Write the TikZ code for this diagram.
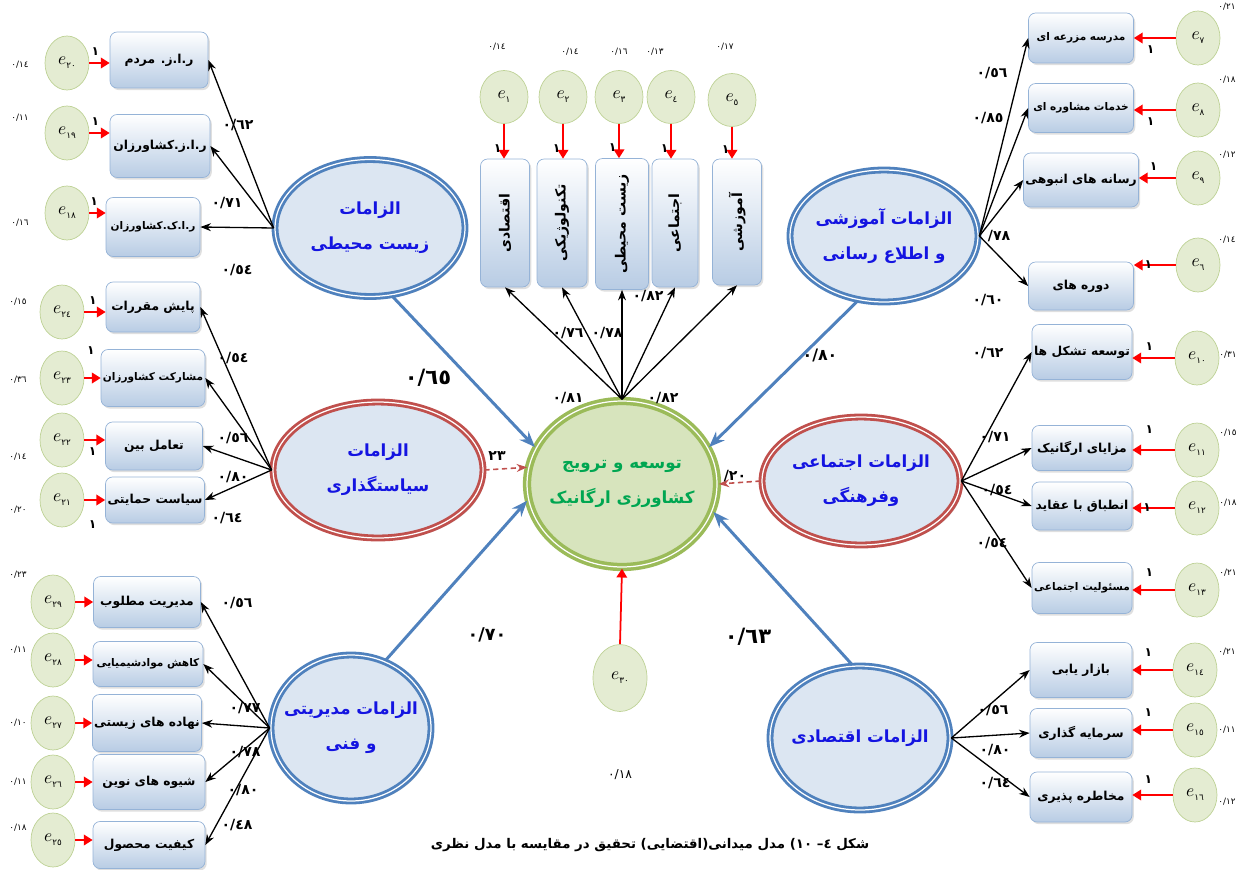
\documentclass[tikz,border=0pt]{standalone}
\usepackage{fontspec}
\usepackage{graphicx}
\usetikzlibrary{shapes.geometric,arrows.meta,shadows,calc}
\TeXXeTstate=1
\newfontfamily\arabicfont[Script=Arabic]{DejaVu Sans}
\newcommand{\rl}[1]{\beginR#1\endR}
\newcommand{\cl}[1]{\makebox[0pt]{\beginR#1\endR}}
\newcommand{\evar}[1]{$e$\raisebox{-0.5ex}{\arabicfont\tiny #1}}
\newcommand{\smallfa}{\arabicfont\bfseries\fontsize{6}{7}\selectfont}
\definecolor{ellblue}{RGB}{79,129,189}
\definecolor{ellred}{RGB}{192,80,77}
\definecolor{ellgreen}{RGB}{155,187,89}
\definecolor{ellfill}{RGB}{220,230,242}
\definecolor{greenfill}{RGB}{215,228,189}
\definecolor{txtblue}{RGB}{20,20,225}
\definecolor{txtgreen}{RGB}{0,166,81}
\definecolor{boxline}{RGB}{149,179,215}
\definecolor{boxfill}{RGB}{184,204,228}
\definecolor{errfill}{RGB}{228,236,210}
\definecolor{errline}{RGB}{190,210,150}

\begin{document}
\begin{tikzpicture}[x=0.02cm, y=-0.02cm,
    latent/.style={ellipse, fill=ellfill, line width=1.6pt, double=white, double distance=0.7pt, align=center, text=txtblue, inner sep=0pt,
      font=\fontsize{9.5}{20}\selectfont\arabicfont\bfseries, drop shadow={shadow xshift=1.5pt, shadow yshift=-1.5pt, fill=black!35}},
    bluelat/.style={latent, draw=ellblue},
    redlat/.style={latent, draw=ellred},
    greenlat/.style={latent, draw=ellgreen, fill=greenfill, text=txtgreen},
    obs/.style={rectangle, rounded corners=4pt, draw=boxline, top color=white, bottom color=boxfill, minimum width=2cm, minimum height=1cm,
      inner sep=1pt, font=\arabicfont\bfseries\scriptsize, drop shadow={shadow xshift=1pt, shadow yshift=-1.2pt, fill=black!25}},
    err/.style={ellipse, draw=errline, fill=errfill, minimum width=0.88cm, minimum height=1.08cm, inner sep=0pt},
    load/.style={-{Stealth[length=6pt, width=4.5pt]}, line width=0.75pt},
    errarr/.style={-{Triangle[length=5pt, width=6pt]}, red, line width=1pt},
    reg/.style={-{Stealth[length=9pt, width=7pt]}, ellblue, line width=1.7pt},
    covar/.style={-{Stealth[length=6pt]}, ellred, dash pattern=on 3pt off 2pt, line width=0.9pt},
    coef/.style={font=\arabicfont\bfseries\footnotesize},
    bigcoef/.style={font=\arabicfont\bfseries\large},
    var/.style={font=\arabicfont\tiny},
    one/.style={font=\arabicfont\bfseries\scriptsize, text=black, inner sep=1pt}]

  \useasboundingbox (0,0) rectangle (1240,869);

  % latent variables
  \node[bluelat, minimum width=3.8cm, minimum height=2.74cm] (zist) at (370,228) {\cl{الزامات}\\\cl{زیست محیطی}};
  \node[redlat, minimum width=4.2cm, minimum height=2.72cm] (sias) at (378,470) {\cl{الزامات}\\\cl{سیاستگذاری}};
  \node[bluelat, minimum width=3.2cm, minimum height=2.92cm] (modir) at (351,728) {\cl{الزامات مدیریتی}\\\cl{و فنی}};
  \node[bluelat, minimum width=3.76cm, minimum height=2.64cm] (amoz) at (884,236) {\cl{الزامات آموزشی}\\\cl{و اطلاع رسانی}};
  \node[redlat, minimum width=3.96cm, minimum height=2.56cm] (ejtem) at (861,481) {\cl{الزامات اجتماعی}\\\cl{وفرهنگی}};
  \node[bluelat, minimum width=3.6cm, minimum height=2.88cm] (eghte) at (860,738) {\cl{الزامات اقتصادی}};
  \node[greenlat, minimum width=3.8cm, minimum height=3.32cm, line width=2pt] (dev) at (622,484) {\cl{توسعه و ترویج}\\\cl{کشاورزی ارگانیک}};

  % indicators
  \node[obs, minimum width=1.96cm, minimum height=1.12cm] (zm1) at (159,60) {\rl{ر.ا.ز. مردم}};
  \node[obs, minimum width=2.0cm, minimum height=1.26cm] (zm2) at (160,146) {\rl{ر.ا.ز.کشاورزان}};
  \node[obs, minimum width=1.88cm, minimum height=1.18cm, font=\smallfa] (zm3) at (153,227) {\rl{ر.ا.ک.کشاورزان}};

  \node[obs, minimum width=1.88cm, minimum height=1.0cm] (sg1) at (153,307) {\rl{پایش مقررات}};
  \node[obs, minimum width=1.88cm, minimum height=1.14cm, font=\smallfa] (sg2) at (153,378) {\rl{مشارکت کشاورزان}};
  \node[obs, minimum width=1.94cm, minimum height=0.96cm] (sg3) at (154,446) {\rl{تعامل بین}};
  \node[obs, minimum width=1.98cm, minimum height=0.92cm] (sg4) at (155,500) {\rl{سیاست حمایتی}};

  \node[obs, minimum width=2.14cm, minimum height=1.02cm] (md1) at (147,602) {\rl{مدیریت مطلوب}};
  \node[obs, minimum width=2.2cm, minimum height=0.9cm, font=\smallfa] (md2) at (148,664) {\rl{کاهش موادشیمیایی}};
  \node[obs, minimum width=2.14cm, minimum height=1.14cm] (md3) at (147,723) {\rl{نهاده های زیستی}};
  \node[obs, minimum width=2.24cm, minimum height=1.1cm] (md4) at (149,782) {\rl{شیوه های نوین}};
  \node[obs, minimum width=2.24cm, minimum height=0.94cm] (md5) at (149,845) {\rl{کیفیت محصول}};

  \node[obs, minimum width=2.1cm, minimum height=1.0cm, font=\smallfa] (am1) at (1081,38) {\rl{مدرسه مزرعه ای}};
  \node[obs, minimum width=2.1cm, minimum height=0.98cm, font=\smallfa] (am2) at (1081,108) {\rl{خدمات مشاوره ای}};
  \node[obs, minimum width=2.1cm, minimum height=1.08cm] (am3) at (1081,180) {\rl{رسانه های انبوهی}};
  \node[obs, minimum width=2.1cm, minimum height=0.96cm] (am4) at (1081,286) {\rl{دوره های}};

  \node[obs, minimum width=2.0cm, minimum height=1.1cm] (ej1) at (1082,352) {\rl{توسعه تشکل ها}};
  \node[obs, minimum width=2.0cm, minimum height=0.9cm] (ej2) at (1082,448) {\rl{مزایای ارگانیک}};
  \node[obs, minimum width=2.0cm, minimum height=0.96cm] (ej3) at (1082,506) {\rl{انطباق با عقاید}};
  \node[obs, minimum width=2.0cm, minimum height=1.02cm, font=\smallfa] (ej4) at (1082,588) {\rl{مسئولیت اجتماعی}};

  \node[obs, minimum width=2.04cm, minimum height=1.1cm] (eg1) at (1081,670) {\rl{بازار یابی}};
  \node[obs, minimum width=2.04cm, minimum height=0.98cm] (eg2) at (1081,733) {\rl{سرمایه گذاری}};
  \node[obs, minimum width=2.04cm, minimum height=1.0cm] (eg3) at (1081,797) {\rl{مخاطره پذیری}};

  \node[obs, minimum width=0.98cm, minimum height=2.56cm, font=\arabicfont\bfseries\footnotesize] (sh1) at (505,223) {\rotatebox{90}{\rl{اقتصادی}}};
  \node[obs, minimum width=1.0cm, minimum height=2.56cm, font=\arabicfont\bfseries\footnotesize] (sh2) at (562,223) {\rotatebox{90}{\rl{تکنولوژیکی}}};
  \node[obs, minimum width=1.06cm, minimum height=2.62cm, font=\arabicfont\bfseries\footnotesize] (sh3) at (622,224) {\rotatebox{90}{\rl{زیست محیطی}}};
  \node[obs, minimum width=0.92cm, minimum height=2.56cm, font=\arabicfont\bfseries\footnotesize] (sh4) at (675,223) {\rotatebox{90}{\rl{اجتماعی}}};
  \node[obs, minimum width=0.98cm, minimum height=2.52cm, font=\arabicfont\bfseries\footnotesize] (sh5) at (737,222) {\rotatebox{90}{\rl{آموزشی}}};

  % error terms
  \node[err, minimum width=0.96cm, minimum height=1.06cm] (e1) at (504,97) {\evar{١}};
  \node[err, minimum width=0.96cm, minimum height=1.06cm] (e2) at (563,97) {\evar{٢}};
  \node[err, minimum width=0.96cm, minimum height=1.06cm] (e3) at (619,97) {\evar{٣}};
  \node[err, minimum width=0.96cm, minimum height=1.06cm] (e4) at (671,97) {\evar{٤}};
  \node[err, minimum width=0.96cm, minimum height=1.06cm] (e5) at (732,100) {\evar{٥}};

  \node[err] (e20) at (67,63) {\evar{٢٠}};
  \node[err] (e19) at (67,133) {\evar{١٩}};
  \node[err] (e18) at (67,213) {\evar{١٨}};
  \node[err] (e24) at (62,312) {\evar{٢٤}};
  \node[err] (e23) at (62,378) {\evar{٢٣}};
  \node[err] (e22) at (62,440) {\evar{٢٢}};
  \node[err] (e21) at (62,500) {\evar{٢١}};
  \node[err] (e29) at (53,602) {\evar{٢٩}};
  \node[err] (e28) at (53,660) {\evar{٢٨}};
  \node[err] (e27) at (53,723) {\evar{٢٧}};
  \node[err] (e26) at (53,782) {\evar{٢٦}};
  \node[err] (e25) at (53,840) {\evar{٢٥}};

  \node[err] (e7) at (1198,38) {\evar{٧}};
  \node[err] (e8) at (1198,110) {\evar{٨}};
  \node[err] (e9) at (1198,178) {\evar{٩}};
  \node[err] (e6) at (1198,265) {\evar{٦}};
  \node[err] (e10) at (1197,358) {\evar{١٠}};
  \node[err] (e11) at (1197,450) {\evar{١١}};
  \node[err] (e12) at (1197,508) {\evar{١٢}};
  \node[err] (e13) at (1197,590) {\evar{١٣}};
  \node[err] (e14) at (1195,670) {\evar{١٤}};
  \node[err] (e15) at (1195,730) {\evar{١٥}};
  \node[err] (e16) at (1195,795) {\evar{١٦}};

  \node[err, minimum width=1.08cm, minimum height=1.34cm] (e30) at (620,678) {\evar{٣٠}};

  % structural paths
  \draw[reg] (zist.-72) -- (dev.157);
  \draw[reg] (amoz.-112) -- (dev.23);
  \draw[reg] (modir.63) -- (dev.190);
  \draw[reg] (eghte.96) -- (dev.-17);
  \draw[covar] (sias.east) -- (dev.170);
  \draw[covar] (ejtem.west) -- (dev.east);
  \draw[errarr] (e30.north) -- (dev.south);

  \node[bigcoef] (p1) at (428,378) {٠/٦٥};
  \node[coef, font=\arabicfont\bfseries\small] (p2) at (820,355) {٠/٨٠};
  \node[coef, font=\arabicfont\bfseries\normalsize] (p3) at (487,635) {٠/٧٠};
  \node[bigcoef] (p4) at (748,637) {٠/٦٣};
  \node[coef] (p5) at (497,456) {٢٣};
  \node[coef] (p6) at (735,476) {\mbox{/}٢٠};

  % loadings
  \draw[load] (dev.north) -- (sh1.south);
  \draw[load] (dev.north) -- (sh2.south);
  \draw[load] (dev.north) -- (sh3.south);
  \draw[load] (dev.north) -- (sh4.south);
  \draw[load] (dev.north) -- (sh5.south);
  \node[coef] at (568,333) {٠/٧٦};
  \node[coef] at (607,333) {٠/٧٨};
  \node[coef] at (648,296) {٠/٨٢};
  \node[coef] at (568,398) {٠/٨١};
  \node[coef] at (663,398) {٠/٨٢};

  \draw[load] (zist.west) -- (zm1.east);
  \draw[load] (zist.west) -- (zm2.east);
  \draw[load] (zist.west) -- (zm3.east);
  \node[coef] at (238,125) {٠/٦٢};
  \node[coef] at (227,203) {٠/٧١};
  \node[coef] at (237,270) {٠/٥٤};

  \draw[load] (sias.west) -- (sg1.east);
  \draw[load] (sias.west) -- (sg2.east);
  \draw[load] (sias.west) -- (sg3.east);
  \draw[load] (sias.west) -- (sg4.east);
  \node[coef] at (233,358) {٠/٥٤};
  \node[coef] at (233,438) {٠/٥٦};
  \node[coef] at (233,477) {٠/٨٠};
  \node[coef] at (227,518) {٠/٦٤};

  \draw[load] (modir.west) -- (md1.east);
  \draw[load] (modir.west) -- (md2.east);
  \draw[load] (modir.west) -- (md3.east);
  \draw[load] (modir.west) -- (md4.east);
  \draw[load] (modir.west) -- (md5.east);
  \node[coef] at (237,603) {٠/٥٦};
  \node[coef] at (245,708) {٠/٧٧};
  \node[coef] at (245,752) {٠/٧٨};
  \node[coef] at (243,790) {٠/٨٠};
  \node[coef] at (237,825) {٠/٤٨};

  \draw[load] (amoz.east) -- (am1.west);
  \draw[load] (amoz.east) -- (am2.west);
  \draw[load] (amoz.east) -- (am3.west);
  \draw[load] (amoz.east) -- (am4.west);
  \node[coef] at (992,73) {٠/٥٦};
  \node[coef] at (988,118) {٠/٨٥};
  \node[coef] at (999,236) {\mbox{/}٧٨};
  \node[coef] at (988,300) {٠/٦٠};

  \draw[load] (ejtem.east) -- (ej1.west);
  \draw[load] (ejtem.east) -- (ej2.west);
  \draw[load] (ejtem.east) -- (ej3.west);
  \draw[load] (ejtem.east) -- (ej4.west);
  \node[coef] at (988,353) {٠/٦٢};
  \node[coef] at (995,437) {٠/٧١};
  \node[coef] at (997,490) {٠/٥٤};
  \node[coef] at (992,543) {٠/٥٤};

  \draw[load] (eghte.east) -- (eg1.west);
  \draw[load] (eghte.east) -- (eg2.west);
  \draw[load] (eghte.east) -- (eg3.west);
  \node[coef] at (993,710) {٠/٥٦};
  \node[coef] at (995,750) {٠/٨٠};
  \node[coef] at (995,783) {٠/٦٤};

  % error arrows
  \draw[errarr] (e1.south) -- (e1.south |- sh1.north) node[one, pos=0.7, left] {١};
  \draw[errarr] (e2.south) -- (e2.south |- sh2.north) node[one, pos=0.7, left] {١};
  \draw[errarr] (e3.south) -- (e3.south |- sh3.north) node[one, pos=0.7, left] {١};
  \draw[errarr] (e4.south) -- (e4.south |- sh4.north) node[one, pos=0.7, left] {١};
  \draw[errarr] (e5.south) -- (e5.south |- sh5.north) node[one, pos=0.7, left] {١};

  \draw[errarr] (e20.east) -- (e20.east -| zm1.west) node[one, pos=0.3, above=3pt] {١};
  \draw[errarr] (e19.east) -- (e19.east -| zm2.west) node[one, pos=0.3, above=3pt] {١};
  \draw[errarr] (e18.east) -- (e18.east -| zm3.west) node[one, pos=0.3, above=3pt] {١};
  \draw[errarr] (e24.east) -- (e24.east -| sg1.west) node[one, pos=0.4, above=3pt] {١};
  \draw[errarr] (e23.east) -- (e23.east -| sg2.west) node[one, pos=0.4, above=12pt] {١};
  \draw[errarr] (e22.east) -- (e22.east -| sg3.west) node[one, pos=0.4, below=3pt] {١};
  \draw[errarr] (e21.east) -- (e21.east -| sg4.west) node[one, pos=0.4, below=10pt] {١};
  \draw[errarr] (e29.east) -- (e29.east -| md1.west);
  \draw[errarr] (e28.east) -- (e28.east -| md2.west);
  \draw[errarr] (e27.east) -- (e27.east -| md3.west);
  \draw[errarr] (e26.east) -- (e26.east -| md4.west);
  \draw[errarr] (e25.east) -- (e25.east -| md5.west);

  \draw[errarr] (e7.west) -- (e7.west -| am1.east) node[one, pos=0.6, below=3pt] {١};
  \draw[errarr] (e8.west) -- (e8.west -| am2.east) node[one, pos=0.6, below=3pt] {١};
  \draw[errarr] (e9.west) -- (e9.west -| am3.east) node[one, pos=0.6, above=3pt] {١};
  \draw[errarr] (e6.west) -- (e6.west -| am4.east) node[one, pos=0.65] {١};
  \draw[errarr] (e10.west) -- (e10.west -| ej1.east) node[one, pos=0.6, above=3pt] {١};
  \draw[errarr] (e11.west) -- (e11.west -| ej2.east) node[one, pos=0.6, above=8pt] {١};
  \draw[errarr] (e12.west) -- (e12.west -| ej3.east) node[one, pos=0.65] {١};
  \draw[errarr] (e13.west) -- (e13.west -| ej4.east) node[one, pos=0.6, above=6pt] {١};
  \draw[errarr] (e14.west) -- (e14.west -| eg1.east) node[one, pos=0.6, above=6pt] {١};
  \draw[errarr] (e15.west) -- (e15.west -| eg2.east) node[one, pos=0.6, above=6pt] {١};
  \draw[errarr] (e16.west) -- (e16.west -| eg3.east) node[one, pos=0.6, above=5pt] {١};

  % error variances
  \node[var] at (497,47) {٠/١٤};
  \node[var] at (570,52) {٠/١٤};
  \node[var] at (619,52) {٠/١٦};
  \node[var] at (655,52) {٠/١٣};
  \node[var] at (725,47) {٠/١٧};
  \node[var] at (20,65) {٠/١٤};
  \node[var] at (20,118) {٠/١١};
  \node[var] at (20,223) {٠/١٦};
  \node[var] at (18,302) {٠/١٥};
  \node[var] at (18,380) {٠/٣٦};
  \node[var] at (18,457) {٠/١٤};
  \node[var] at (18,510) {٠/٢٠};
  \node[var] at (18,575) {٠/٢٣};
  \node[var] at (18,650) {٠/١١};
  \node[var] at (18,723) {٠/١٠};
  \node[var] at (18,782) {٠/١١};
  \node[var] at (18,828) {٠/١٨};
  \node[var] at (1227,7) {٠/٢١};
  \node[var] at (1227,80) {٠/١٨};
  \node[var] at (1227,155) {٠/١٢};
  \node[var] at (1227,240) {٠/١٤};
  \node[var] at (1228,355) {٠/٣١};
  \node[var] at (1228,433) {٠/١٥};
  \node[var] at (1228,503) {٠/١٨};
  \node[var] at (1228,573) {٠/٢١};
  \node[var] at (1227,652) {٠/٢١};
  \node[var] at (1227,730) {٠/١١};
  \node[var] at (1227,802) {٠/١٢};
  \node[var, font=\arabicfont\scriptsize] at (620,775) {٠/١٨};

  \node[font=\arabicfont\bfseries\fontsize{7.6}{9}\selectfont] (cap) at (650,845) {\rl{شکل ٤– ١٠) مدل میدانی(اقتضایی) تحقیق در مقایسه با مدل نظری}};
\end{tikzpicture}
\end{document}
